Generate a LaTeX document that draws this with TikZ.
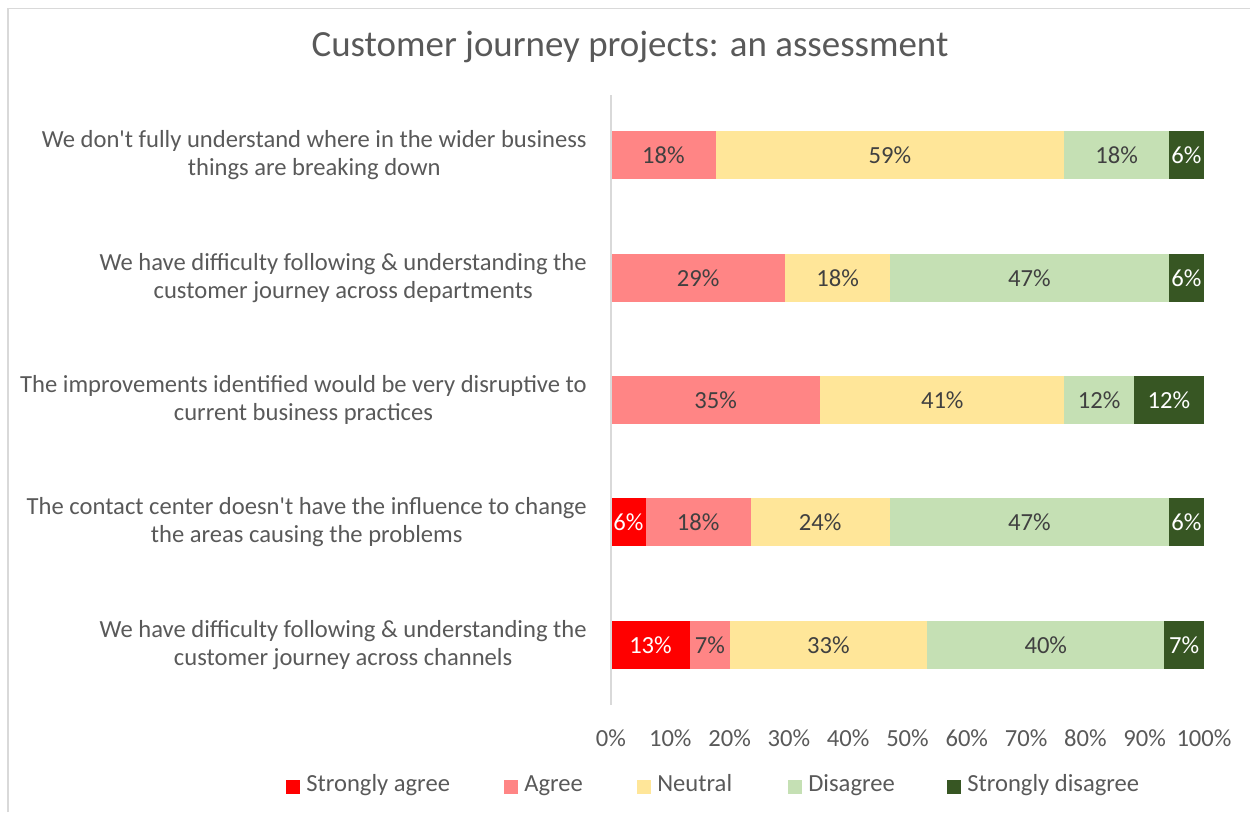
\documentclass[tikz,border=0pt]{standalone}
\usepackage{fontspec}
\setmainfont{Carlito}
\usetikzlibrary{positioning}
\definecolor{sagree}{HTML}{FF0000}
\definecolor{agree}{HTML}{FF8585}
\definecolor{neutral}{HTML}{FFE699}
\definecolor{disagree}{HTML}{C5E0B4}
\definecolor{sdisagree}{HTML}{375623}
\definecolor{txt}{HTML}{595959}
\definecolor{val}{HTML}{404040}
\definecolor{frame}{HTML}{D9D9D9}
\tikzset{
  seg/.style={inner sep=0,outer sep=0,minimum height=0.96cm,anchor=west,
    font=\fontsize{14}{16}\selectfont,text=val},
  w/.style={minimum width=#1*0.6976cm},
  v/.style={minimum width=#1*0.7907cm},
  cat/.style={anchor=east,align=center,text=txt,font=\fontsize{14}{15.9}\selectfont,inner sep=0},
  tick/.style={text=txt,font=\fontsize{14}{16}\selectfont,inner sep=0},
  key/.style={inner sep=0,outer sep=0,minimum size=0.28cm},
  keytxt/.style={text=txt,font=\fontsize{14}{16}\selectfont,inner sep=0,
    text height=0.7em,text depth=0.2em,right=0.12cm of #1}
}

\begin{document}
\begin{tikzpicture}[x=0.02cm,y=-0.02cm]
  \useasboundingbox (0,0) rectangle (1250,812);
  \draw[frame,line width=1.1pt] (8,812) -- (8,8.5) -- (1250,8.5);

  \node[text=txt,font=\fontsize{21}{24}\selectfont] (title) at (630,47) {Customer journey projects: an assessment};

  % categories
  \node[cat] (c1) at (587,155) {We don\textquotesingle t fully understand where in the wider business\\things are breaking down};
  \node[cat] (c2) at (587,278) {We have difficulty following \& understanding the\\customer journey across departments};
  \node[cat] (c3) at (587,400) {The improvements identified would be very disruptive to\\current business practices};
  \node[cat] (c4) at (587,522) {The contact center doesn\textquotesingle t have the influence to change\\the areas causing the problems};
  \node[cat] (c5) at (587,645) {We have difficulty following \& understanding the\\customer journey across channels};

  % bars
  \node[seg,w=3,fill=agree] (r1b) at (611,155) {18\%};
  \node[seg,w=10,fill=neutral,right=0pt of r1b] (r1c) {59\%};
  \node[seg,w=3,fill=disagree,right=0pt of r1c] (r1d) {18\%};
  \node[seg,w=1,fill=sdisagree,text=white,right=0pt of r1d] (r1e) {6\%};

  \node[seg,w=5,fill=agree] (r2b) at (611,278) {29\%};
  \node[seg,w=3,fill=neutral,right=0pt of r2b] (r2c) {18\%};
  \node[seg,w=8,fill=disagree,right=0pt of r2c] (r2d) {47\%};
  \node[seg,w=1,fill=sdisagree,text=white,right=0pt of r2d] (r2e) {6\%};

  \node[seg,w=6,fill=agree] (r3b) at (611,400) {35\%};
  \node[seg,w=7,fill=neutral,right=0pt of r3b] (r3c) {41\%};
  \node[seg,w=2,fill=disagree,right=0pt of r3c] (r3d) {12\%};
  \node[seg,w=2,fill=sdisagree,text=white,right=0pt of r3d] (r3e) {12\%};

  \node[seg,w=1,fill=sagree,text=white] (r4a) at (611,522) {6\%};
  \node[seg,w=3,fill=agree,right=0pt of r4a] (r4b) {18\%};
  \node[seg,w=4,fill=neutral,right=0pt of r4b] (r4c) {24\%};
  \node[seg,w=8,fill=disagree,right=0pt of r4c] (r4d) {47\%};
  \node[seg,w=1,fill=sdisagree,text=white,right=0pt of r4d] (r4e) {6\%};

  \node[seg,v=2,fill=sagree,text=white] (r5a) at (611,645) {13\%};
  \node[seg,v=1,fill=agree,right=0pt of r5a] (r5b) {7\%};
  \node[seg,v=5,fill=neutral,right=0pt of r5b] (r5c) {33\%};
  \node[seg,v=6,fill=disagree,right=0pt of r5c] (r5d) {40\%};
  \node[seg,v=1,fill=sdisagree,text=white,right=0pt of r5d] (r5e) {7\%};

  % axis
  \coordinate (top) at (611,95);
  \coordinate (bot) at (611,705);
  \draw[frame,line width=1.1pt] (top) -- (bot);
  \foreach \i in {0,...,10}{
    \pgfmathtruncatemacro\p{10*\i}
    \node[tick] (t\i) at (611+59.3*\i,738) {\p\%};
  }

  % legend
  \node[key,fill=sagree] (k1) at (293,787) {};
  \node[keytxt=k1] (l1) {Strongly agree};
  \node[key,fill=agree] (k2) at (511,787) {};
  \node[keytxt=k2] (l2) {Agree};
  \node[key,fill=neutral] (k3) at (644,787) {};
  \node[keytxt=k3] (l3) {Neutral};
  \node[key,fill=disagree] (k4) at (795,787) {};
  \node[keytxt=k4] (l4) {Disagree};
  \node[key,fill=sdisagree] (k5) at (954,787) {};
  \node[keytxt=k5] (l5) {Strongly disagree};
\end{tikzpicture}
\end{document}
